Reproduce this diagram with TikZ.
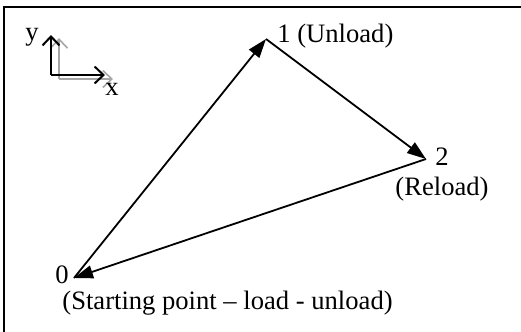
\documentclass[tikz,border=0pt]{standalone}
\usepackage{fontspec}
\setmainfont{Liberation Serif}
\usetikzlibrary{arrows.meta}
\tikzset{
  move/.style={line width=0.9pt,-{Triangle[length=9.5pt,width=6.5pt]}},
  axis/.style={line width=1pt,-{Straight Barb[length=4.5pt,width=8.5pt]}},
  lbl/.style={inner sep=0pt,font=\fontsize{13.3}{16}\selectfont}
}
\begin{document}
\begin{tikzpicture}[x=0.5pt,y=-0.5pt]
                    \useasboundingbox (0,0) rectangle (521,332);
                    \draw[line width=1pt] (521,7) -- (4.5,7) -- (4.5,332);

                    % axes, with a grey copy behind
                    \coordinate (og) at (59,79);
                    \draw[axis,gray!70,line width=0.8pt] (og) -- (59,38);
                    \draw[axis,gray!70,line width=0.8pt] (og) -- (113,79);
                    \coordinate (o) at (51,75);
                    \draw[axis] (o) -- (51,35);
                    \draw[axis] (o) -- (105,75);
                    \node[lbl] (ylab) at (32,37) {y};
                    \node[lbl] (xlab) at (112,89) {x};

                    % load path
                    \coordinate (v0) at (74,278);
                    \coordinate (v1) at (266,39);
                    \coordinate (v2) at (426,159);
                    \draw[move] (v0) -- (v1);
                    \draw[move] (v1) -- (v2);
                    \draw[move] (v2) -- (v0);

                    \node[lbl,anchor=west] (l1) at (277,36) {1 (Unload)};
                    \node[lbl] (l2) at (442,157) {2};
                    \node[lbl] (l2b) at (442,189) {(Reload)};
                    \node[lbl] (l0) at (62,275) {0};
                    \node[lbl,anchor=west] (l0b) at (62,303) {(Starting point – load - unload)};
                    
                \end{tikzpicture}
\end{document}
